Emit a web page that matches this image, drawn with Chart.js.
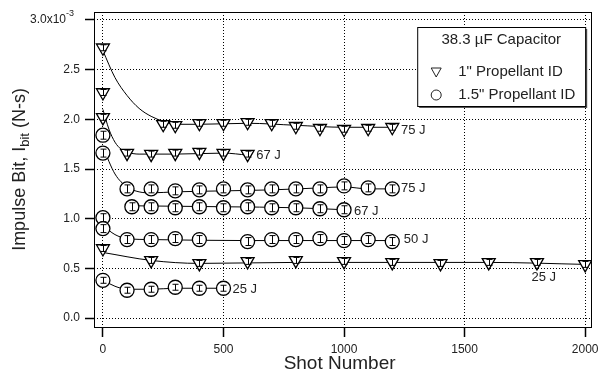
<!DOCTYPE html>
<html>
<head>
<meta charset="utf-8">
<script src="https://cdn.jsdelivr.net/npm/chart.js@4"></script>
<style>
    html, body { margin: 0; padding: 0; background: #fff; }
    #caixa { width: 600px; height: 376px; }
</style>
</head>
<body>
<div id="caixa"><canvas id="grafico-impulso"></canvas></div>
<script>
// DADOS DO GRÁFICO (Impulse bit em 1e-3 N-s)
// 1" propellant ID (triangulos)
const tiros_1in_75J = [0, 250, 300, 400, 500, 600, 700, 800, 900, 1000, 1100, 1200];
const ibit_1in_75J = [2.72, 1.95, 1.94, 1.96, 1.96, 1.97, 1.96, 1.93, 1.91, 1.90, 1.91, 1.92];
const tiros_1in_67J = [0, 0, 100, 200, 300, 400, 500, 600];
const ibit_1in_67J = [2.27, 2.02, 1.66, 1.65, 1.66, 1.67, 1.66, 1.65];
const tiros_1in_25J = [0, 200, 400, 600, 800, 1000, 1200, 1400, 1600, 1800, 2000];
const ibit_1in_25J = [0.70, 0.58, 0.55, 0.57, 0.58, 0.57, 0.56, 0.55, 0.56, 0.56, 0.54];

// 1.5" propellant ID (circulos)
const tiros_15in_75J = [0, 0, 100, 200, 300, 400, 500, 600, 700, 800, 900, 1000, 1100, 1200];
const ibit_15in_75J = [1.84, 1.66, 1.30, 1.30, 1.28, 1.29, 1.30, 1.29, 1.30, 1.30, 1.30, 1.33, 1.31, 1.30];
const tiros_15in_67J = [120, 200, 300, 400, 500, 600, 700, 800, 900, 1000];
const ibit_15in_67J = [1.12, 1.12, 1.11, 1.12, 1.11, 1.12, 1.11, 1.11, 1.10, 1.09];
const tiros_15in_50J = [0, 0, 100, 200, 300, 400, 600, 700, 800, 900, 1000, 1100, 1200];
const ibit_15in_50J = [1.01, 0.90, 0.79, 0.79, 0.80, 0.79, 0.77, 0.79, 0.79, 0.80, 0.78, 0.79, 0.77];
const tiros_15in_25J = [0, 100, 200, 300, 400, 500];
const ibit_15in_25J = [0.38, 0.28, 0.29, 0.31, 0.30, 0.30];

// CURVAS DE AJUSTE
const ajuste_1in_75J_x = [0, 50, 100, 150, 200, 250, 300, 400, 600, 800, 1000, 1200];
const ajuste_1in_75J_y = [2.69, 2.42, 2.24, 2.11, 2.03, 1.98, 1.95, 1.95, 1.96, 1.94, 1.92, 1.92];
const ajuste_1in_67J_x = [0, 25, 50, 75, 100, 150, 300, 500, 600];
const ajuste_1in_67J_y = [2.10, 1.90, 1.77, 1.70, 1.67, 1.65, 1.65, 1.66, 1.64];
const ajuste_1in_25J_x = [0, 200, 400, 800, 1200, 1600, 2000];
const ajuste_1in_25J_y = [0.66, 0.58, 0.55, 0.56, 0.56, 0.56, 0.54];
const ajuste_15in_75J_x = [0, 50, 100, 150, 200, 300, 500, 700, 900, 1000, 1100, 1200];
const ajuste_15in_75J_y = [1.72, 1.45, 1.32, 1.27, 1.26, 1.27, 1.28, 1.29, 1.31, 1.32, 1.30, 1.30];
const ajuste_15in_67J_x = [120, 500, 800, 1000];
const ajuste_15in_67J_y = [1.13, 1.12, 1.11, 1.09];
const ajuste_15in_50J_x = [0, 50, 100, 200, 600, 1200];
const ajuste_15in_50J_y = [0.93, 0.84, 0.80, 0.79, 0.78, 0.78];
const ajuste_15in_25J_x = [0, 50, 100, 200, 300, 500];
const ajuste_15in_25J_y = [0.38, 0.32, 0.29, 0.29, 0.30, 0.30];

// BARRAS DE ERRO (meia altura, 1e-3 N-s)
const erros_series = [0.03, 0.03, 0.03, 0.04, 0.04, 0.04, 0.03];

// ROTULOS DE ENERGIA
const rotulos_texto = ['75 J', '67 J', '75 J', '67 J', '50 J', '25 J', '25 J'];
const rotulos_x = [1236, 636, 1236, 1041, 1248, 1777, 537];
const rotulos_y = [1.89, 1.64, 1.30, 1.07, 0.79, 0.41, 0.29];

// EIXOS
const ticks_x = [0, 500, 1000, 1500, 2000];
const ticks_y = [0, 0.5, 1.0, 1.5, 2.0, 2.5, 3.0];

const FONTE = 'Arial, "Liberation Sans", sans-serif';

function pontos(xs, ys) {
    return xs.map((x, i) => ({ x: x, y: ys[i] }));
}

function serieMarcadores(xs, ys, estilo, erro) {
    let triangulo = estilo === 'triangle';
    return {
        data: pontos(xs, ys),
        pointStyle: estilo,
        rotation: triangulo ? 180 : 0,
        pointRadius: triangulo ? 7.5 : 7,
        pointBorderWidth: 1.3,
        pointBorderColor: '#000',
        pointBackgroundColor: '#fff',
        showLine: false,
        erro: erro,
        order: 1
    };
}

function serieAjuste(xs, ys) {
    return {
        data: pontos(xs, ys),
        showLine: true,
        borderColor: '#000',
        borderWidth: 1,
        pointRadius: 0,
        cubicInterpolationMode: 'monotone',
        order: 2
    };
}

// PLUGIN: BARRAS DE ERRO
const pluginErros = {
    id: 'erros',
    afterDatasetsDraw(chart) {
        let ctx = chart.ctx;
        let sx = chart.scales.x, sy = chart.scales.y;
        ctx.save();
        ctx.strokeStyle = '#000';
        ctx.lineWidth = 1;
        chart.data.datasets.forEach(ds => {
            if (!ds.erro) return;
            ds.data.forEach(p => {
                let px = Math.round(sx.getPixelForValue(p.x)) + 0.5;
                let y1 = sy.getPixelForValue(p.y - ds.erro);
                let y2 = sy.getPixelForValue(p.y + ds.erro);
                ctx.beginPath();
                ctx.moveTo(px, y1); ctx.lineTo(px, y2);
                ctx.moveTo(px - 3, y1); ctx.lineTo(px + 3, y1);
                ctx.moveTo(px - 3, y2); ctx.lineTo(px + 3, y2);
                ctx.stroke();
            });
        });
        ctx.restore();
    }
};

// PLUGIN: MOLDURA, TITULOS, ROTULOS E LEGENDA
const pluginTextos = {
    id: 'textos',
    afterDraw(chart) {
        let ctx = chart.ctx;
        let a = chart.chartArea;
        let sx = chart.scales.x, sy = chart.scales.y;
        ctx.save();

        // moldura
        ctx.strokeStyle = '#000';
        ctx.lineWidth = 1;
        ctx.strokeRect(Math.round(a.left) + 0.5, Math.round(a.top) + 0.5,
            Math.round(a.right - a.left), Math.round(a.bottom - a.top));

        // rotulo 3.0x10^-3 do eixo y
        ctx.fillStyle = '#222';
        ctx.textBaseline = 'middle';
        ctx.textAlign = 'right';
        let y3 = sy.getPixelForValue(3);
        ctx.font = '12px ' + FONTE;
        ctx.fillText('3.0x10', 66, y3);
        ctx.textAlign = 'left';
        ctx.font = '9px ' + FONTE;
        ctx.fillText('-3', 66, y3 - 6);

        // rotulos de energia
        ctx.font = '13px ' + FONTE;
        ctx.textAlign = 'left';
        rotulos_texto.forEach((t, i) => {
            ctx.fillText(t, sx.getPixelForValue(rotulos_x[i]), sy.getPixelForValue(rotulos_y[i]));
        });

        // titulo do eixo x
        ctx.font = '19px ' + FONTE;
        ctx.textAlign = 'center';
        ctx.fillText('Shot Number', (a.left + a.right) / 2 - 3, 364);

        // titulo do eixo y (com subscrito)
        ctx.translate(20, (a.top + a.bottom) / 2);
        ctx.rotate(-Math.PI / 2);
        let p1 = 'Impulse Bit, I', sub = 'bit', p2 = ' (N-s)';
        ctx.font = '18px ' + FONTE;
        let w1 = ctx.measureText(p1).width, w3 = ctx.measureText(p2).width;
        ctx.font = '13px ' + FONTE;
        let w2 = ctx.measureText(sub).width;
        let x0 = -(w1 + w2 + w3) / 2;
        ctx.textAlign = 'left';
        ctx.font = '18px ' + FONTE;
        ctx.fillText(p1, x0, 0);
        ctx.font = '13px ' + FONTE;
        ctx.fillText(sub, x0 + w1, 5);
        ctx.font = '18px ' + FONTE;
        ctx.fillText(p2, x0 + w1 + w2, 0);
        ctx.setTransform(1, 0, 0, 1, 0, 0);

        // legenda
        let lx = a.right - 174, ly = a.top + 15, lw = 168, lh = 79;
        ctx.fillStyle = '#555';
        ctx.fillRect(lx + 2, ly + 2, lw, lh);
        ctx.fillStyle = '#fff';
        ctx.fillRect(lx, ly, lw, lh);
        ctx.strokeStyle = '#000';
        ctx.strokeRect(lx + 0.5, ly + 0.5, lw, lh);
        ctx.fillStyle = '#222';
        ctx.font = '15px ' + FONTE;
        ctx.textAlign = 'center';
        ctx.fillText('38.3 \u00b5F Capacitor', lx + lw / 2, ly + 13);
        ctx.textAlign = 'left';
        ctx.fillText('1" Propellant ID', lx + 41, ly + 45);
        ctx.fillText('1.5" Propellant ID', lx + 41, ly + 68);
        // simbolos
        ctx.lineWidth = 1;
        ctx.strokeStyle = '#222';
        let tx = lx + 19, ty = ly + 45;
        ctx.beginPath();
        ctx.moveTo(tx - 5, ty - 4); ctx.lineTo(tx + 5, ty - 4); ctx.lineTo(tx, ty + 5); ctx.closePath();
        ctx.stroke();
        ctx.beginPath();
        ctx.arc(tx, ly + 68, 5, 0, Math.PI * 2);
        ctx.stroke();

        ctx.restore();
    }
};

function gerarGraficoImpulso() {
    let canvas = document.getElementById('grafico-impulso');
    let ctx = canvas.getContext('2d');

    let datasets = [
        serieAjuste(ajuste_1in_75J_x, ajuste_1in_75J_y),
        serieAjuste(ajuste_1in_67J_x, ajuste_1in_67J_y),
        serieAjuste(ajuste_1in_25J_x, ajuste_1in_25J_y),
        serieAjuste(ajuste_15in_75J_x, ajuste_15in_75J_y),
        serieAjuste(ajuste_15in_67J_x, ajuste_15in_67J_y),
        serieAjuste(ajuste_15in_50J_x, ajuste_15in_50J_y),
        serieAjuste(ajuste_15in_25J_x, ajuste_15in_25J_y),
        serieMarcadores(tiros_1in_75J, ibit_1in_75J, 'triangle', erros_series[0]),
        serieMarcadores(tiros_1in_67J, ibit_1in_67J, 'triangle', erros_series[1]),
        serieMarcadores(tiros_1in_25J, ibit_1in_25J, 'triangle', erros_series[2]),
        serieMarcadores(tiros_15in_75J, ibit_15in_75J, 'circle', erros_series[3]),
        serieMarcadores(tiros_15in_67J, ibit_15in_67J, 'circle', erros_series[4]),
        serieMarcadores(tiros_15in_50J, ibit_15in_50J, 'circle', erros_series[5]),
        serieMarcadores(tiros_15in_25J, ibit_15in_25J, 'circle', erros_series[6])
    ];

    let grade = {
        color: '#000',
        lineWidth: 1,
        borderDash: [1, 2],
        drawTicks: true,
        tickColor: '#000',
        tickWidth: 1.5,
        tickBorderDash: []
    };

    new Chart(ctx, {
        type: 'scatter',
        data: { datasets: datasets },
        options: {
            responsive: true,
            maintainAspectRatio: false,
            animation: false,
            layout: { padding: { top: 12, right: 7, left: 0, bottom: 0 } },
            plugins: { legend: { display: false }, tooltip: { enabled: false } },
            scales: {
                x: {
                    type: 'linear',
                    min: -37,
                    max: 2025,
                    afterBuildTicks: s => { s.ticks = ticks_x.map(v => ({ value: v })); },
                    afterFit: s => { s.height = 49; s.paddingLeft = 0; s.paddingRight = 0; },
                    grid: Object.assign({ tickLength: 10 }, grade),
                    border: { display: false, dash: [1, 2] },
                    ticks: {
                        color: '#222', padding: 5, maxRotation: 0,
                        font: { family: FONTE, size: 12 },
                        callback: v => String(v)
                    }
                },
                y: {
                    type: 'linear',
                    min: -0.09,
                    max: 3.08,
                    afterBuildTicks: s => { s.ticks = ticks_y.map(v => ({ value: v })); },
                    afterFit: s => { s.width = 94; s.paddingTop = 0; s.paddingBottom = 0; },
                    grid: Object.assign({ tickLength: 9 }, grade),
                    border: { display: false, dash: [1, 2] },
                    ticks: {
                        color: '#222',
                        padding: 5,
                        font: { family: FONTE, size: 12 },
                        callback: v => v === 3 ? '' : v.toFixed(1)
                    }
                }
            }
        },
        plugins: [pluginErros, pluginTextos]
    });
}

gerarGraficoImpulso();
</script>
</body>
</html>
